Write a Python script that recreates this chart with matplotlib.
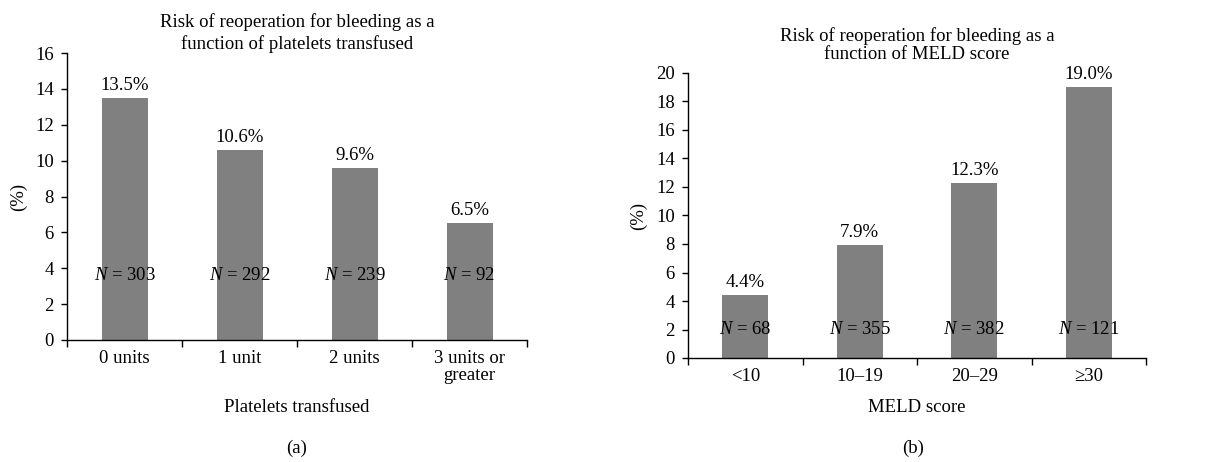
import matplotlib
matplotlib.use("Agg")
import matplotlib.pyplot as plt

# ----------------------------------------------------------------------------
# Data

platelet_cats = ["0 units", "1 unit", "2 units", "3 units or\ngreater"]
platelet_risk = [13.5, 10.6, 9.6, 6.5]
platelet_n = [303, 292, 239, 92]

meld_cats = ["<10", "10\u201319", "20\u201329", "\u226530"]
meld_risk = [4.4, 7.9, 12.3, 19.0]
meld_n = [68, 355, 382, 121]

# ----------------------------------------------------------------------------

plt.rcParams["font.family"] = ["Liberation Serif", "DejaVu Serif"]
plt.rcParams["mathtext.fontset"] = "custom"
plt.rcParams["mathtext.rm"] = "Liberation Serif"
plt.rcParams["mathtext.it"] = "Liberation Serif:italic"
plt.rcParams["font.size"] = 13.5

BAR = "#808080"
W, H = 1228, 462

fig = plt.figure(figsize=(W / 100, H / 100), dpi=100)


def px_axes(left, top, right, bottom):
    return fig.add_axes([left / W, 1 - bottom / H, (right - left) / W, (bottom - top) / H])


def draw_panel(ax, cats, risk, ns, ymax, n_y, title, title_pad, title_ls,
               xlabel, xlabel_y, ylabel_x):
    pos = list(range(len(cats)))
    ax.bar(pos, risk, width=0.4, color=BAR)
    ax.set_xlim(-0.5, len(cats) - 0.5)
    ax.set_ylim(0, ymax)
    ax.set_yticks(range(0, ymax + 1, 2))

    for sp in ["top", "right"]:
        ax.spines[sp].set_visible(False)
    for sp in ["left", "bottom"]:
        ax.spines[sp].set_linewidth(1.0)

    # category boundaries as major ticks, labels on minor ticks at centres
    ax.set_xticks([p - 0.5 for p in pos] + [pos[-1] + 0.5])
    ax.set_xticklabels([])
    ax.set_xticks(pos, minor=True)
    ax.set_xticklabels(cats, minor=True, linespacing=1.05)
    ax.tick_params(axis="x", which="major", direction="out", length=5, width=1)
    ax.tick_params(axis="x", which="minor", length=0, pad=7)
    ax.tick_params(axis="y", direction="out", length=4.5, width=1, pad=5)

    for p, v, n in zip(pos, risk, ns):
        ax.annotate(f"{v:.1f}%", (p, v), xytext=(0, 3), textcoords="offset points",
                    ha="center", va="bottom")
        ax.text(p, n_y, f"$N$ = {n}", ha="center", va="center")

    ax.set_title(title, pad=title_pad, linespacing=title_ls, fontsize=13.5)
    ax.text(0.5, xlabel_y, xlabel, transform=ax.transAxes, ha="center", va="center")
    ax.text(ylabel_x, 0.5, "(%)", transform=ax.transAxes, rotation=90,
            ha="center", va="center")


ax_a = px_axes(67, 53, 527, 340)
draw_panel(ax_a, platelet_cats, platelet_risk, platelet_n, 16, 3.6,
           "Risk of reoperation for bleeding as a\nfunction of platelets transfused", 1, 1.3,
           "Platelets transfused", -(407 - 340) / 287, (18 - 67) / 460)

ax_b = px_axes(688, 73, 1146, 358)
draw_panel(ax_b, meld_cats, meld_risk, meld_n, 20, 2.0,
           "Risk of reoperation for bleeding as a\nfunction of MELD score", 10, 1.1,
           "MELD score", -(407 - 358) / 285, (638 - 688) / 458)

fig.text(297 / W, 1 - 448 / H, "(a)", ha="center", va="center")
fig.text(913 / W, 1 - 448 / H, "(b)", ha="center", va="center")

fig.savefig("out.png", dpi=100)
